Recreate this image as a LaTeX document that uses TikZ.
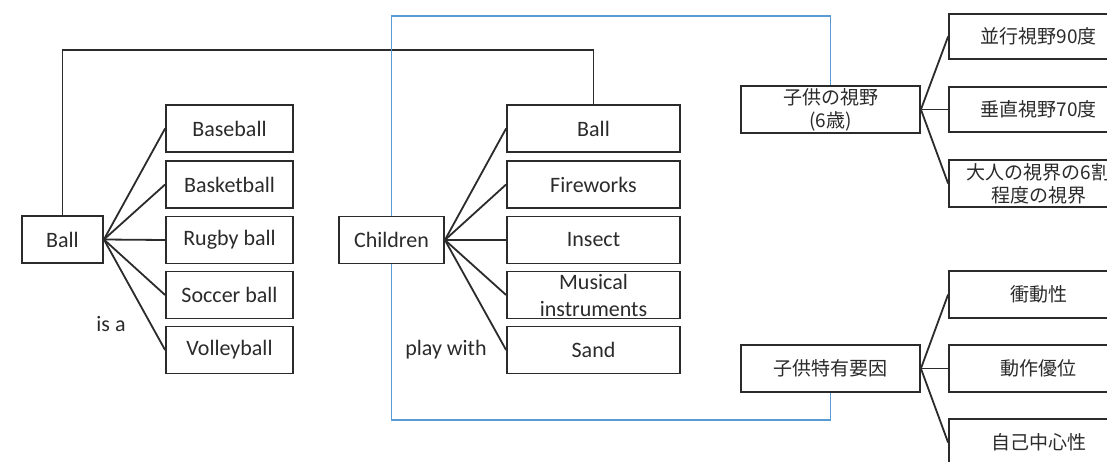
\documentclass[tikz,border=0pt]{standalone}
\usepackage{fontspec}
\setmainfont{Carlito}
\newfontfamily\jp{Noto Sans CJK JP}
\definecolor{ink}{HTML}{2B2B2B}
\definecolor{link}{HTML}{5B9BD5}
\begin{document}
\begin{tikzpicture}[x=1pt,y=-1pt,
  every node/.style={text=ink},
  box/.style={draw=ink, line width=1.8pt, rectangle, inner sep=0pt, minimum height=47pt,
    align=center, font=\fontsize{22}{27}\selectfont},
  jbox/.style={box, font=\jp\fontsize{19}{23}\selectfont},
  wire/.style={draw=ink, line width=1.8pt},
  bluewire/.style={draw=link, line width=1.6pt},
  lbl/.style={font=\fontsize{22}{27}\selectfont, inner sep=0pt}]
\clip (0,0) rectangle (1107,461);
\fill[white] (0,0) rectangle (1107,461);

% left tree: kinds of ball
\node[box, minimum width=81pt] (ball) at (62.5,239.5) {Ball};
\node[box, minimum width=127pt] (baseball) at (229.5,128.5) {Baseball};
\node[box, minimum width=127pt] (basketball) at (229.5,184.5) {Basketball};
\node[box, minimum width=127pt] (rugby) at (229.5,240) {Rugby ball};
\node[box, minimum width=127pt] (soccer) at (229.5,295) {Soccer ball};
\node[box, minimum width=127pt] (volley) at (229.5,350) {Volleyball};
\node[lbl] (isa) at (111,324) {is a};

% middle tree: what children play with
\node[box, minimum width=105pt] (children) at (391.5,240) {Children};
\node[box, minimum width=173pt] (pball) at (593.5,128.5) {Ball};
\node[box, minimum width=173pt] (fireworks) at (593.5,184.5) {Fireworks};
\node[box, minimum width=173pt] (insect) at (593.5,240) {Insect};
\node[box, minimum width=173pt] (musical) at (593.5,295) {Musical\\instruments};
\node[box, minimum width=173pt] (sand) at (593.5,350) {Sand};
\node[lbl] (playwith) at (446,350) {play with};

% right trees: child's field of view and child-specific factors
\node[jbox, minimum width=179pt] (view) at (830.5,109.5) {子供の視野\\(6歳)};
\node[jbox, minimum width=179pt, minimum height=45pt] (v90) at (1038.5,36.5) {並行視野90度};
\node[jbox, minimum width=179pt, minimum height=45pt] (v70) at (1038.5,109.5) {垂直視野70度};
\node[jbox, minimum width=179pt] (v60) at (1038.5,183.5) {大人の視界の6割\\程度の視界};
\node[jbox, minimum width=179pt] (factor) at (830.5,368.5) {子供特有要因};
\node[jbox, minimum width=179pt] (impulse) at (1038.5,294.5) {衝動性};
\node[jbox, minimum width=179pt] (motion) at (1038.5,368.5) {動作優位};
\node[jbox, minimum width=179pt] (egocentric) at (1038.5,442.5) {自己中心性};

% fan-out connectors
\foreach \c in {baseball,basketball,rugby,soccer,volley}
  \draw[wire] (ball.east) -- (\c.west);
\foreach \c in {pball,fireworks,insect,musical,sand}
  \draw[wire] (children.east) -- (\c.west);
\foreach \c in {v90,v70,v60}
  \draw[wire] (view.east) -- (\c.west);
\foreach \c in {impulse,motion,egocentric}
  \draw[wire] (factor.east) -- (\c.west);

% elbow connectors
\coordinate (ytop) at (0,50);
\coordinate (ybluetop) at (0,16);
\coordinate (ybluebot) at (0,420);
\draw[wire] (ball.north) -- (ball.north |- ytop) -| (pball.north);
\draw[bluewire] (children.north) -- (children.north |- ybluetop) -| (view.north);
\draw[bluewire] (children.south) -- (children.south |- ybluebot) -| (factor.south);
\end{tikzpicture}
\end{document}
